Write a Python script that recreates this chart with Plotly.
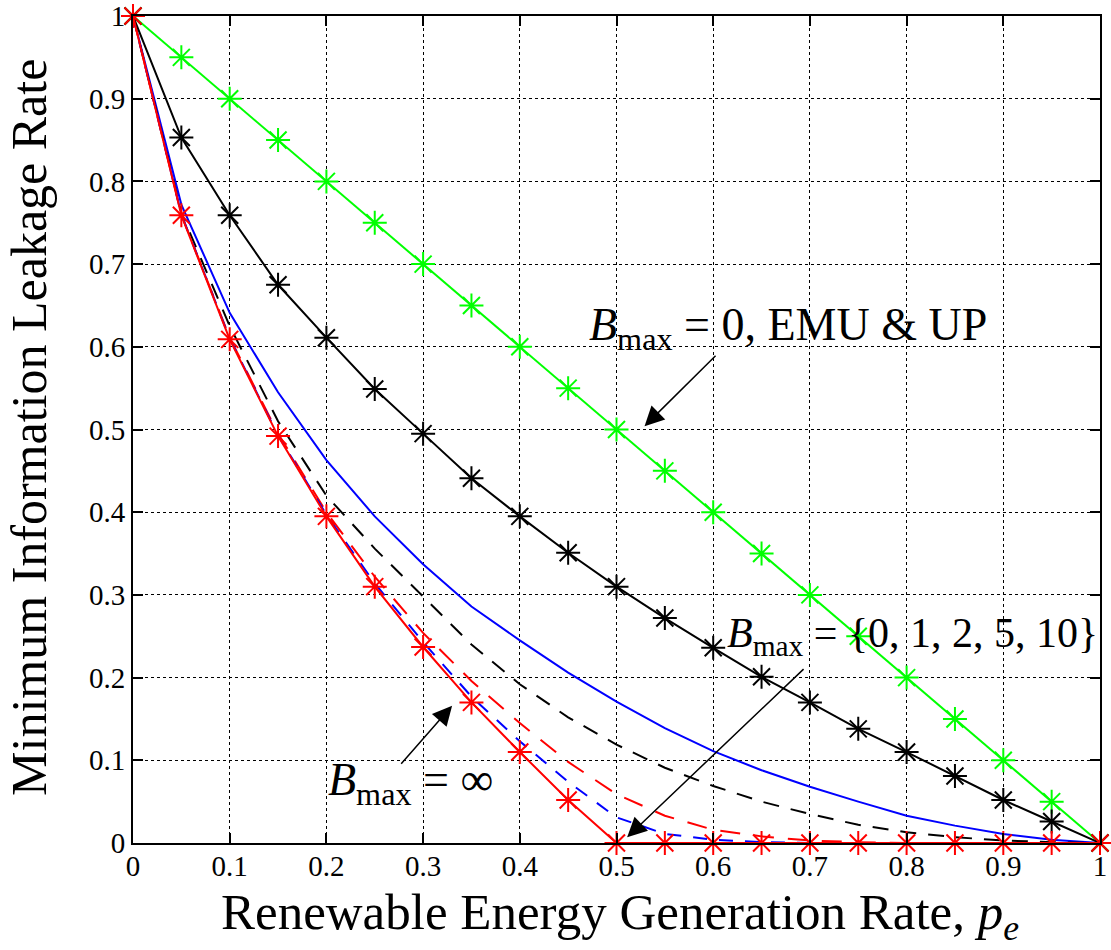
import plotly.graph_objects as go

pe = [0, 0.05, 0.1, 0.15, 0.2, 0.25, 0.3, 0.35, 0.4, 0.45, 0.5,
      0.55, 0.6, 0.65, 0.7, 0.75, 0.8, 0.85, 0.9, 0.95, 1.0]

green_emu_up = [1.0, 0.95, 0.9, 0.85, 0.8, 0.75, 0.7, 0.65, 0.6, 0.55, 0.5,
                0.45, 0.4, 0.35, 0.3, 0.25, 0.2, 0.15, 0.1, 0.05, 0.0]
black_star = [1.0, 0.853, 0.759, 0.675, 0.611, 0.549, 0.495, 0.441, 0.395, 0.351, 0.310,
              0.272, 0.236, 0.201, 0.170, 0.138, 0.110, 0.081, 0.052, 0.026, 0.0]
red_inf = [1.0, 0.759, 0.609, 0.492, 0.395, 0.310, 0.237, 0.170, 0.110, 0.052, 0.0,
           0.0, 0.0, 0.0, 0.0, 0.0, 0.0, 0.0, 0.0, 0.0, 0.0]
blue_b0 = [1.0, 0.772, 0.641, 0.545, 0.463, 0.395, 0.337, 0.286, 0.245, 0.206, 0.171,
           0.139, 0.111, 0.088, 0.068, 0.050, 0.033, 0.021, 0.011, 0.004, 0.0]
black_b1 = [1.0, 0.762, 0.625, 0.510, 0.420, 0.356, 0.298, 0.240, 0.192, 0.152, 0.119,
            0.091, 0.069, 0.050, 0.035, 0.022, 0.013, 0.007, 0.003, 0.001, 0.0]
red_b2 = [1.0, 0.760, 0.611, 0.495, 0.400, 0.322, 0.254, 0.196, 0.145, 0.098, 0.059,
          0.033, 0.016, 0.008, 0.003, 0.001, 0.0, 0.0, 0.0, 0.0, 0.0]
blue_b5 = [1.0, 0.760, 0.610, 0.493, 0.397, 0.314, 0.243, 0.177, 0.123, 0.074, 0.031,
           0.011, 0.004, 0.001, 0.0, 0.0, 0.0, 0.0, 0.0, 0.0, 0.0]

ticks = [0, 0.1, 0.2, 0.3, 0.4, 0.5, 0.6, 0.7, 0.8, 0.9, 1]
tick_text = ["0", "0.1", "0.2", "0.3", "0.4", "0.5", "0.6", "0.7", "0.8", "0.9", "1"]

SERIF = "Liberation Serif, DejaVu Serif, serif"

fig = go.Figure()

def line(y, color, dash="solid"):
    fig.add_trace(go.Scatter(x=pe, y=y, mode="lines",
                             line=dict(color=color, width=2, dash=dash),
                             showlegend=False, hoverinfo="skip"))

def star(y, color):
    fig.add_trace(go.Scatter(x=pe, y=y, mode="lines+markers",
                             line=dict(color=color, width=2),
                             marker=dict(symbol="asterisk-open", size=20,
                                         line=dict(color=color, width=2)),
                             showlegend=False, hoverinfo="skip", cliponaxis=False))

line(blue_b0, "#0000ff")
line(black_b1, "#000000", "16px,12px")
line(red_b2, "#ff0000", "20px,14px")
line(blue_b5, "#0000ff", "14px,12px")
star(green_emu_up, "#00ff00")
star(black_star, "#000000")
star(red_inf, "#ff0000")

fig.add_annotation(x=0.677, y=0.623, xref="x", yref="y", showarrow=False,
                   text="<i>B</i><sub>max</sub> = 0, EMU &amp; UP",
                   font=dict(family=SERIF, size=46, color="black"))
fig.add_annotation(x=0.806, y=0.250, xref="x", yref="y", showarrow=False,
                   text="<i>B</i><sub>max</sub> = {0, 1, 2, 5, 10}",
                   font=dict(family=SERIF, size=42, color="black"))
fig.add_annotation(x=0.287, y=0.072, xref="x", yref="y", showarrow=False,
                   text="<i>B</i><sub>max</sub> = ∞",
                   font=dict(family=SERIF, size=46, color="black"))

arrows = [((0.604, 0.591), (0.529, 0.504)),
          ((0.695, 0.212), (0.511, 0.007)),
          ((0.276, 0.094), (0.330, 0.166))]
for (tx, ty), (hx, hy) in arrows:
    fig.add_annotation(x=hx, y=hy, ax=tx, ay=ty, xref="x", yref="y",
                       axref="x", ayref="y", showarrow=True, text="",
                       arrowhead=2, arrowsize=2.6, arrowwidth=1.5, arrowcolor="black")

# axis titles
fig.add_annotation(x=0.504, y=-0.088, xref="paper", yref="paper", showarrow=False,
                   xanchor="center", yanchor="middle",
                   text="Renewable Energy Generation Rate, <i>p<sub>e</sub></i>",
                   font=dict(family=SERIF, size=51, color="black"))
fig.add_annotation(x=-0.1075, y=0.502, xref="paper", yref="paper", showarrow=False,
                   xanchor="center", yanchor="middle", textangle=-90,
                   text="Minimum Information Leakage Rate",
                   font=dict(family=SERIF, size=50, color="black"))

axis_common = dict(range=[0, 1], tickvals=ticks, ticktext=tick_text,
                   showgrid=True, gridcolor="black", griddash="dot", gridwidth=1,
                   showline=True, linecolor="black", linewidth=2, mirror="allticks",
                   ticks="inside", ticklen=10, tickwidth=2, tickcolor="black",
                   zeroline=False, ticklabeloverflow="allow",
                   tickfont=dict(family=SERIF, size=29, color="black"))

fig.update_xaxes(**axis_common, ticklabelstandoff=-4)
fig.update_yaxes(**axis_common)

fig.update_layout(width=1111, height=950,
                  margin=dict(l=133, r=11, t=16, b=107, autoexpand=False),
                  plot_bgcolor="white", paper_bgcolor="white",
                  showlegend=False)

fig.write_html("out.html")
